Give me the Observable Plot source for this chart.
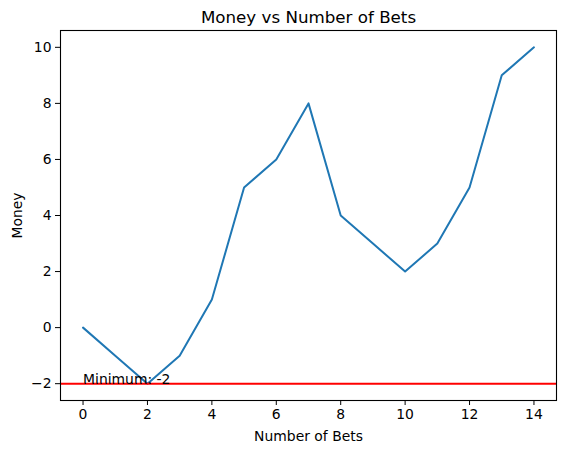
<!DOCTYPE html>
<html><head><meta charset="utf-8">
<script src="https://cdn.jsdelivr.net/npm/d3@7"></script>
<script src="https://cdn.jsdelivr.net/npm/@observablehq/plot@0.6"></script>
<style>body{margin:0;background:#fff}</style>
</head><body><div id="chart"></div>
<script>
const bets = [0,1,2,3,4,5,6,7,8,9,10,11,12,13,14];
const money = [0,-1,-2,-1,1,5,6,8,4,3,2,3,5,9,10];
const xTicks = [0,2,4,6,8,10,12,14];
const yTicks = [-2,0,2,4,6,8,10];
const minimumValue = -2;
const minimumLabel = "Minimum: -2";
const titleText = "Money vs Number of Bets";
const xLabel = "Number of Bets";
const yLabel = "Money";

const data = bets.map((b, i) => ({bets: b, money: money[i]}));
const fmt = d => d < 0 ? "\u2212" + Math.abs(d) : String(d);

const chart = Plot.plot({
  width: 565,
  height: 453,
  marginLeft: 60,
  marginRight: 9,
  marginTop: 30,
  marginBottom: 53,
  style: {fontFamily: "'DejaVu Sans', sans-serif", fontSize: "13.9px", color: "black", background: "white"},
  x: {domain: [-0.7, 14.7], ticks: xTicks, tickFormat: fmt, label: null},
  y: {domain: [-2.6, 10.6], ticks: yTicks, tickFormat: fmt, label: null},
  marks: [
    Plot.axisX({ticks: xTicks, tickFormat: fmt, tickSize: 5, tickPadding: 4, label: null, fontSize: 13.9}),
    Plot.axisY({ticks: yTicks, tickFormat: fmt, tickSize: 5, tickPadding: 4, label: null, fontSize: 13.9}),
    Plot.line(data, {x: "bets", y: "money", stroke: "#1f77b4", strokeWidth: 2}),
    Plot.ruleY([minimumValue], {stroke: "red", strokeWidth: 2}),
    Plot.text([minimumLabel], {x: 0, y: minimumValue, text: d => d, textAnchor: "start", lineAnchor: "bottom", fontSize: 13.9, fill: "black"}),
    Plot.frame({stroke: "black", strokeWidth: 1.1}),
    Plot.text([titleText], {frameAnchor: "top", text: d => d, lineAnchor: "bottom", dy: -8, fontSize: 16.7, fill: "black"}),
    Plot.text([xLabel], {frameAnchor: "bottom", text: d => d, lineAnchor: "bottom", dy: 40, fontSize: 13.9, fill: "black"}),
    Plot.text([yLabel], {frameAnchor: "left", text: d => d, rotate: -90, textAnchor: "middle", lineAnchor: "middle", dx: -43, fontSize: 13.9, fill: "black"})
  ]
});
document.getElementById("chart").appendChild(chart);
</script>
</body></html>
